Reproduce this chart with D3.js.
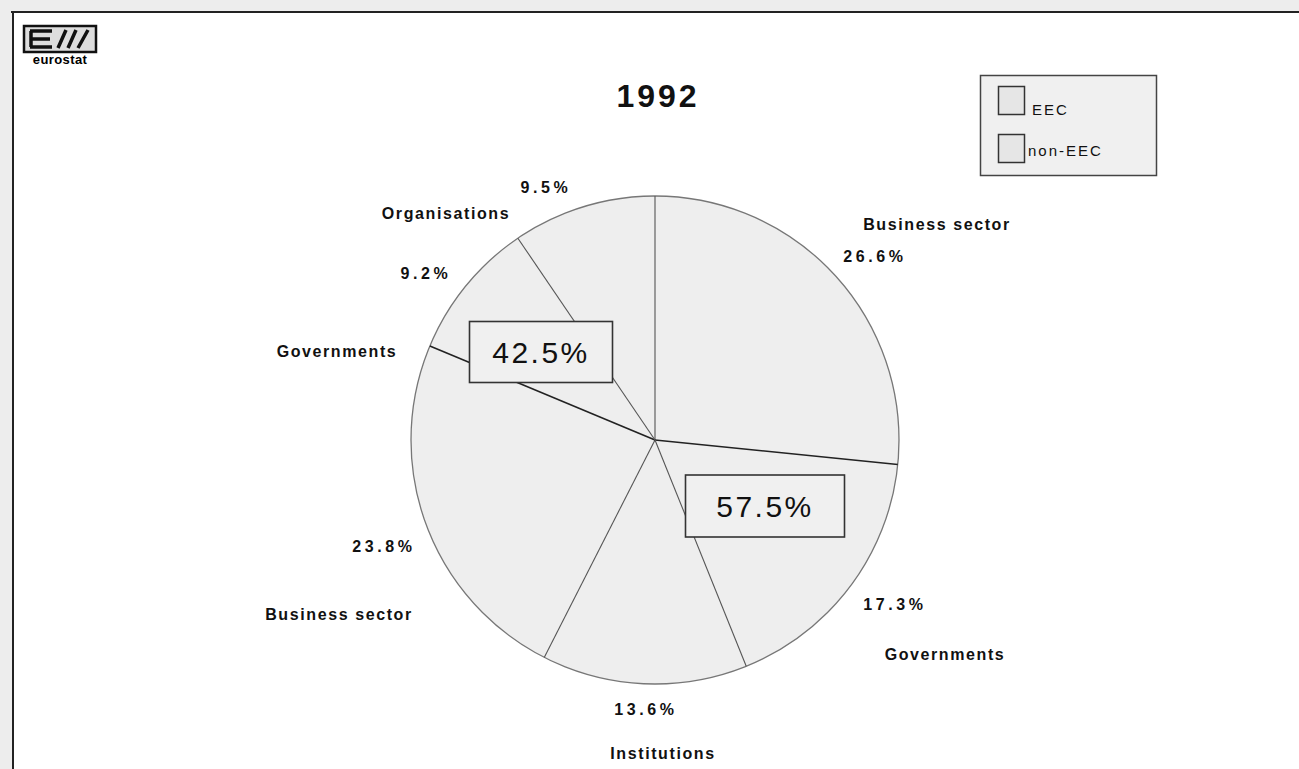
<!DOCTYPE html>
<html>
<head>
<meta charset="utf-8">
<script src="https://cdn.jsdelivr.net/npm/d3@7"></script>
<style>
  body { margin: 0; background: #ededed; }
  svg { display: block; font-family: "Liberation Sans", Arial, sans-serif; }
</style>
</head>
<body>
<div id="chart"></div>
<script>
// 1992 breakdown, EEC vs non-EEC
var title = "1992";
var sectors = ["Business sector", "Governments", "Institutions", "Business sector", "Governments", "Organisations"];
var groups = ["EEC", "EEC", "EEC", "non-EEC", "non-EEC", "non-EEC"];
var shares = [26.6, 17.3, 13.6, 23.8, 9.2, 9.5];
var groupNames = ["EEC", "non-EEC"];
var groupShares = [57.5, 42.5];

// label placement, offsets from pie centre: [pctX, pctY, nameX, nameY]
var labelSpots = [
  [220, -184, 282, -216],
  [240, 164, 290, 214],
  [-9, 269, 8, 313],
  [-271, 106, -316, 174],
  [-229, -167, -318, -89],
  [-109, -253, -209, -227]
];
// group total boxes: [cx, cy, w, h] offsets from centre
var groupBoxes = {"EEC": [110, 66, 159, 62], "non-EEC": [-114, -88, 143, 61]};

var width = 1299, height = 769;
var cx = 655, cy = 440, radius = 244;

var svg = d3.select("#chart").append("svg").attr("width", width).attr("height", height);

// frame
svg.append("rect").attr("x", 14).attr("y", 13).attr("width", width - 14).attr("height", height - 13).style("fill", "#fff");
svg.append("line").attr("x1", 11).attr("y1", 12).attr("x2", width).attr("y2", 12).style("stroke", "#222").style("stroke-width", 2);
svg.append("line").attr("x1", 13).attr("y1", 12).attr("x2", 13).attr("y2", height).style("stroke", "#222").style("stroke-width", 2);

// logo
var logo = svg.append("g");
logo.append("rect").attr("x", 24).attr("y", 26).attr("width", 72).attr("height", 26).style("fill", "#ddd").style("stroke", "#111").style("stroke-width", 2.5);
logo.append("path").attr("d", "M30,31 H52 M30,39 H50 M30,47 H52 M31,31 V47 M58,48 L66,30 M68,48 L76,30 M78,48 L88,30")
  .style("stroke", "#111").style("stroke-width", 3.5).style("fill", "none");
logo.append("text").attr("x", 60).attr("y", 64).attr("text-anchor", "middle")
  .style("font-size", "13px").style("font-weight", "bold").style("letter-spacing", "0.4px").text("eurostat");

// title
svg.append("text").attr("x", 658).attr("y", 107).attr("text-anchor", "middle")
  .style("font-size", "32px").style("font-weight", "bold").style("letter-spacing", "3px").style("fill", "#111").text(title);

// legend
var legend = svg.append("g");
legend.append("rect").attr("x", 980.5).attr("y", 75.5).attr("width", 176).attr("height", 100)
  .style("fill", "#f0f0f0").style("stroke", "#444").style("stroke-width", 1.5);
legend.selectAll(".sw").data(groupNames).enter().append("rect")
  .attr("x", 998.5).attr("y", function (d, i) { return 86.5 + i * 48; })
  .attr("width", 26).attr("height", 28)
  .style("fill", "#e6e6e6").style("stroke", "#333").style("stroke-width", 1.5);
legend.selectAll(".lt").data(groupNames).enter().append("text")
  .attr("x", function (d, i) { return i == 0 ? 1032 : 1028; })
  .attr("y", function (d, i) { return 115 + i * 41; })
  .style("font-size", "15px").style("letter-spacing", "2px").style("fill", "#111")
  .text(function (d) { return d; });

// pie
var pie = d3.pie().sort(null).value(function (d) { return d; });
var arc = d3.arc().innerRadius(0).outerRadius(radius);
var arcs = pie(shares);
var g = svg.append("g").attr("transform", "translate(" + cx + "," + cy + ")");

g.selectAll(".slice").data(arcs).enter().append("path")
  .attr("d", arc)
  .style("fill", "#eeeeee")
  .style("stroke", "none");

g.append("circle").attr("r", radius).style("fill", "none").style("stroke", "#777").style("stroke-width", 1.3);

g.selectAll(".spoke").data(arcs).enter().append("line")
  .attr("x1", 0).attr("y1", 0)
  .attr("x2", function (d) { return radius * Math.sin(d.startAngle); })
  .attr("y2", function (d) { return -radius * Math.cos(d.startAngle); })
  .style("stroke", function (d, i) { return (i == 1 || i == 4) ? "#222" : "#555"; })
  .style("stroke-width", function (d, i) { return (i == 1 || i == 4) ? 1.6 : 1.1; });

// group total boxes
groupNames.forEach(function (name, i) {
  var b = groupBoxes[name];
  g.append("rect").attr("x", b[0] - b[2] / 2).attr("y", b[1] - b[3] / 2).attr("width", b[2]).attr("height", b[3])
    .style("fill", "#f0f0f0").style("stroke", "#333").style("stroke-width", 1.6);
  g.append("text").attr("x", b[0]).attr("y", b[1] + 11).attr("text-anchor", "middle")
    .style("font-size", "30px").style("letter-spacing", "2.5px").style("fill", "#111")
    .text(groupShares[i].toFixed(1) + "%");
});

// slice labels
arcs.forEach(function (d, i) {
  var s = labelSpots[i];
  g.append("text").attr("x", s[0]).attr("y", s[1]).attr("dy", "0.36em").attr("text-anchor", "middle")
    .style("font-size", "16px").style("font-weight", "bold").style("letter-spacing", "3.6px").style("fill", "#111")
    .text(shares[i].toFixed(1) + "%");
  g.append("text").attr("x", s[2]).attr("y", s[3]).attr("dy", "0.36em").attr("text-anchor", "middle")
    .style("font-size", "16px").style("font-weight", "bold").style("letter-spacing", "1.6px").style("fill", "#111")
    .text(sectors[i]);
});
</script>
</body>
</html>
